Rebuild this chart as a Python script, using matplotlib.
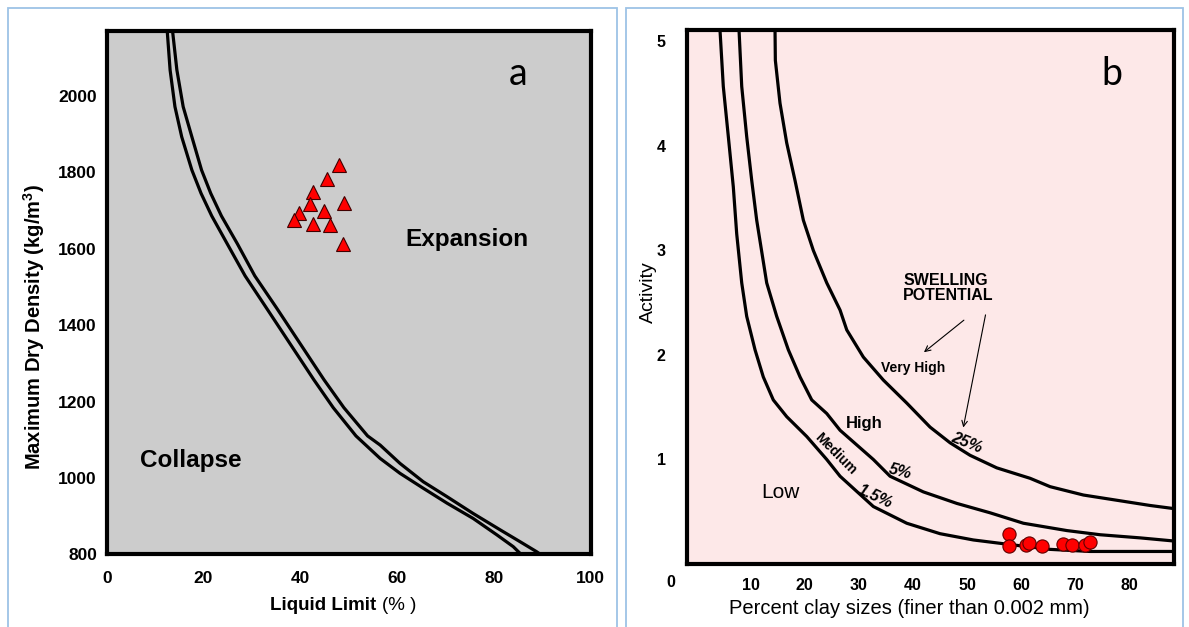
import matplotlib
matplotlib.use("Agg")
import matplotlib.pyplot as plt
from matplotlib.patches import Rectangle
from matplotlib.transforms import blended_transform_factory

plt.rcParams['font.family'] = ['Liberation Sans', 'DejaVu Sans']

# ---------------- Panel a data ----------------
a_outer_x = [13.6, 14.5, 15.8, 17.6, 19.6, 21.5, 23.7, 27.0, 30.6, 35.1, 40.0, 44.9, 49.0,
             53.9, 56.5, 60.6, 65.4, 70.3, 75.7, 81.3, 85.4, 88.8, 89.6]
a_outer_y = [2171, 2068, 1972, 1893, 1806, 1745, 1686, 1613, 1529, 1445, 1351, 1257, 1184,
             1110, 1086, 1038, 990, 951, 907, 864, 833, 807, 800]
a_inner_x = [12.5, 13.1, 14.1, 15.5, 17.6, 19.5, 21.7, 24.9, 28.6, 33.0, 37.9, 42.8, 46.8,
             51.5, 56.5, 60.6, 65.4, 70.3, 75.7, 80.6, 84.0, 85.6]
a_inner_y = [2171, 2068, 1972, 1893, 1806, 1745, 1686, 1613, 1529, 1445, 1351, 1257, 1184,
             1110, 1051, 1012, 973, 934, 894, 851, 820, 800]
a_pts_x = [47.9, 45.6, 42.7, 42.0, 49.0, 44.8, 39.7, 38.6, 42.7, 46.1, 48.8]
a_pts_y = [1819, 1782, 1749, 1717, 1719, 1700, 1694, 1675, 1665, 1662, 1612]
a_xticks = [0, 20, 40, 60, 80, 100]
a_yticks = [800, 1000, 1200, 1400, 1600, 1800, 2000]

# ---------------- Panel b data ----------------
b_c15_x = [4.31, 4.92, 5.85, 6.77, 7.40, 8.33, 9.25, 10.79, 12.32, 14.17, 16.65, 20.36, 24.06,
           26.52, 32.68, 38.86, 45.02, 51.18, 57.37, 65.38, 72.78, 88.3]
b_c15_y = [5.11, 4.57, 4.09, 3.61, 3.16, 2.69, 2.37, 2.05, 1.79, 1.57, 1.41, 1.22, 1.00,
           0.84, 0.55, 0.39, 0.29, 0.23, 0.19, 0.14, 0.12, 0.12]
b_c5_x = [7.83, 8.33, 9.25, 10.18, 11.10, 12.95, 14.80, 16.95, 19.12, 21.28, 24.06, 26.52,
          32.68, 35.77, 41.93, 48.11, 54.27, 60.44, 68.47, 74.63, 82.03, 88.3]
b_c5_y = [5.11, 4.57, 4.09, 3.67, 3.29, 2.69, 2.37, 2.05, 1.79, 1.57, 1.44, 1.28,
          1.00, 0.84, 0.69, 0.58, 0.49, 0.39, 0.32, 0.28, 0.25, 0.22]
b_c25_x = [14.49, 14.55, 15.41, 16.65, 18.19, 19.73, 21.58, 24.06, 26.52, 27.76, 30.83, 34.53,
           38.86, 43.17, 46.87, 50.58, 55.51, 61.68, 65.38, 71.54, 77.72, 83.88, 88.3]
b_c25_y = [5.11, 4.82, 4.41, 4.03, 3.67, 3.29, 3.00, 2.69, 2.43, 2.24, 1.98, 1.76,
           1.54, 1.31, 1.16, 1.04, 0.92, 0.82, 0.74, 0.66, 0.61, 0.56, 0.53]
b_pts_x = [57.85, 57.85, 60.84, 61.55, 63.84, 67.69, 69.45, 71.86, 72.85]
b_pts_y = [0.29, 0.17, 0.18, 0.20, 0.17, 0.19, 0.18, 0.18, 0.21]
b_xticks = [10, 20, 30, 40, 50, 60, 70, 80]
b_yticks = [1, 2, 3, 4, 5]

W, H = 1189, 627
fig = plt.figure(figsize=(W / 100, H / 100), dpi=100)

# panel borders
for (l, r) in [(8, 617), (626, 1183)]:
    fig.patches.append(Rectangle((l / W, -0.02), (r - l) / W, 1 - 8 / H + 0.02,
                                 transform=fig.transFigure, fill=False,
                                 ec='#9dc3e6', lw=1.3))

line_kw = dict(color='black', lw=2.3, solid_joinstyle='round', solid_capstyle='round')

# ---------------- Panel a ----------------
axa = fig.add_axes([106.7 / W, 1 - 554.3 / H, (590.7 - 106.7) / W, (554.3 - 30.7) / H])
axa.set_facecolor('#cccccc')
axa.plot(a_outer_x, a_outer_y, **line_kw)
axa.plot(a_inner_x, a_inner_y, **line_kw)
axa.plot(a_pts_x, a_pts_y, linestyle='none', marker='^', ms=10.5,
         mfc='#ff0000', mec='#400000', mew=0.8)
axa.set_xlim(0, 100)
axa.set_ylim(800, 2171)
axa.set_xticks(a_xticks)
axa.set_xticklabels([str(v) for v in a_xticks])
axa.set_yticks(a_yticks)
axa.set_yticklabels([str(v) for v in a_yticks])
axa.tick_params(length=0, labelsize=12.5)
axa.tick_params(axis='x', pad=12)
axa.tick_params(axis='y', pad=7)
for t in axa.get_xticklabels() + axa.get_yticklabels():
    t.set_fontweight('bold')
for s in axa.spines.values():
    s.set_linewidth(3)
axa.set_ylabel('Maximum Dry Density (kg/m$^\\mathregular{3}$)', fontsize=14.5,
               fontweight='bold')
axa.yaxis.set_label_coords(-0.124, 0.434)
axa.text(0.85, 0.917, 'a', transform=axa.transAxes, fontsize=27,
         family=['Lato', 'DejaVu Sans'], ha='center', va='center')
axa.text(74.4, 1623, 'Expansion', fontsize=17.5, fontweight='bold', ha='center', va='center')
axa.text(17.4, 1045, 'Collapse', fontsize=17.5, fontweight='bold', ha='center', va='center')
ta = blended_transform_factory(axa.transAxes, fig.transFigure)
axa.text(0.568, 1 - 606 / H, 'Liquid Limit ', transform=ta, fontsize=13.5,
         fontweight='bold', ha='right', va='center')
axa.text(0.568, 1 - 606 / H, '(% )', transform=ta, fontsize=13.5,
         ha='left', va='center')

# ---------------- Panel b ----------------
axb = fig.add_axes([686.7 / W, 1 - 564 / H, (1174 - 686.7) / W, (564 - 30) / H])
axb.set_facecolor('#fde8e8')
for cx, cy in [(b_c15_x, b_c15_y), (b_c5_x, b_c5_y), (b_c25_x, b_c25_y)]:
    axb.plot(cx, cy, **line_kw)
axb.plot(b_pts_x, b_pts_y, linestyle='none', marker='o', ms=9.5,
         mfc='#ff0000', mec='#600000', mew=0.8, zorder=5)
axb.set_xlim(-1.85, 88.3)
axb.set_ylim(0, 5.11)
axb.set_xticks(b_xticks)
axb.set_xticklabels([str(v) for v in b_xticks])
axb.set_yticks(b_yticks)
axb.set_yticklabels([str(v) for v in b_yticks])
axb.tick_params(length=0, labelsize=11.5)
axb.tick_params(axis='x', pad=10)
axb.tick_params(axis='y', pad=15)
for t in axb.get_xticklabels() + axb.get_yticklabels():
    t.set_fontweight('bold')
for s in axb.spines.values():
    s.set_linewidth(3)
tb = blended_transform_factory(axb.transAxes, fig.transFigure)
axb.text(-0.032, 1 - 582.7 / H, '0', transform=tb, fontsize=11.5, fontweight='bold',
         ha='center', va='center')
axb.set_ylabel('Activity', fontsize=14)
axb.yaxis.set_label_coords(-0.062, 0.51)
axb.text(0.456, 1 - 608 / H, 'Percent clay sizes (finer than 0.002 mm)', transform=tb,
         fontsize=14.5, ha='center', va='center')
axb.text(0.873, 0.918, 'b', transform=axb.transAxes, fontsize=27,
         family=['Lato', 'DejaVu Sans'], ha='center', va='center')

axb.text(38.2, 2.64, 'SWELLING\nPOTENTIAL', fontsize=11.5, fontweight='bold',
         ha='left', va='center', linespacing=1.05)
axb.annotate('', xy=(41.64, 2.01), xytext=(49.83, 2.35),
             arrowprops=dict(arrowstyle='->', color='black', lw=0.8))
axb.annotate('', xy=(49.22, 1.28), xytext=(53.53, 2.41),
             arrowprops=dict(arrowstyle='->', color='black', lw=0.8))
axb.text(40.08, 1.88, 'Very High', fontsize=10, fontweight='bold', ha='center', va='center')
axb.text(30.92, 1.34, 'High', fontsize=12, fontweight='bold', ha='center', va='center')
axb.text(49.96, 1.155, '25%', fontsize=11.5, fontweight='bold', style='italic',
         ha='center', va='center', rotation=-22)
axb.text(37.62, 0.88, '5%', fontsize=11.5, fontweight='bold', style='italic',
         ha='center', va='center', rotation=-15)
axb.text(32.99, 0.644, '1.5%', fontsize=11.5, fontweight='bold', style='italic',
         ha='center', va='center', rotation=-25)
axb.text(25.76, 1.05, 'Medium', fontsize=10, fontweight='bold', ha='center', va='center',
         rotation=-45)
axb.text(15.41, 0.68, 'Low', fontsize=15, ha='center', va='center')

fig.savefig('out.png', dpi=100)
